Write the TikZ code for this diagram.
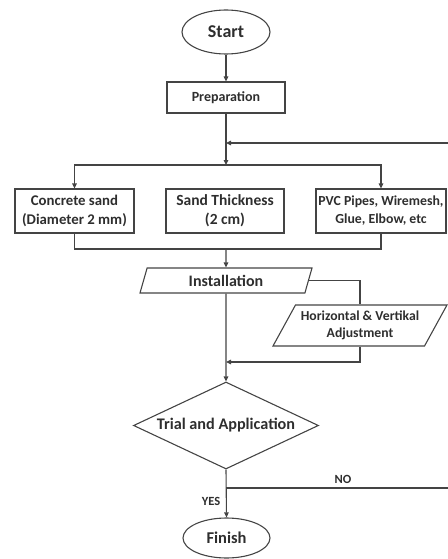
\documentclass[tikz,border=0pt]{standalone}
\usepackage{fontspec}
\setmainfont{Carlito}
\usetikzlibrary{shapes.geometric,arrows.meta}
\definecolor{ln}{HTML}{444444}
\definecolor{tx}{HTML}{2E2E2E}
\begin{document}
\begin{tikzpicture}[x=1pt,y=-1pt,
  base/.style={draw=ln,line width=1.1pt,text=tx,font=\bfseries,inner sep=1pt,align=center},
  term/.style={base,ellipse},
  procbox/.style={base,rectangle},
  iobox/.style={base,trapezium,trapezium stretches body},
  decide/.style={base,diamond},
  conn/.style={draw=ln,line width=1.1pt},
  arr/.style={conn,-{Triangle[length=5pt,width=4.5pt]}},
  lab/.style={text=tx,font=\bfseries\fontsize{12.5}{14}\selectfont,inner sep=0pt}]
\useasboundingbox (0,0) rectangle (447,559);
\node[term,minimum width=88,minimum height=44,font=\bfseries\fontsize{18}{20}\selectfont] (start) at (226,32) {Start};
\node[procbox,minimum width=118,minimum height=31,font=\bfseries\fontsize{14}{16}\selectfont] (prep) at (226,97.5) {Preparation};
\coordinate (fb) at (226,143);
\coordinate (j1) at (226,165);
\node[procbox,minimum width=119,minimum height=44,font=\bfseries\fontsize{14.8}{19}\selectfont] (sand) at (74.5,211) {Concrete sand\\(Diameter 2 mm)};
\node[procbox,minimum width=118,minimum height=44,font=\bfseries\fontsize{15.5}{19}\selectfont] (thick) at (225,211) {Sand Thickness\\(2 cm)};
\node[procbox,minimum width=130,minimum height=44,font=\bfseries\fontsize{13.8}{18}\selectfont] (pvc) at (381,211) {PVC Pipes, Wiremesh,\\Glue, Elbow, etc};
\coordinate (j2) at (226,249);
\node[iobox,trapezium left angle=62,trapezium right angle=118,minimum width=172,minimum height=25,font=\bfseries\fontsize{16}{18}\selectfont] (inst) at (226,280.5) {Installation};
\node[iobox,trapezium left angle=54,trapezium right angle=126,minimum width=174,minimum height=41,font=\bfseries\fontsize{13.7}{17}\selectfont] (adj) at (360,325.5) {Horizontal \& Vertikal\\Adjustment};
\coordinate (m2) at (226,362);
\node[decide,shape aspect=2.13,minimum width=185,minimum height=87,font=\bfseries\fontsize{16.2}{18}\selectfont] (trial) at (226,425.5) {Trial and Application};
\coordinate (no) at (226,488);
\coordinate (noR) at (470,488);
\coordinate (fbR) at (470,143);
\node[term,minimum width=87,minimum height=40,font=\bfseries\fontsize{16.5}{18}\selectfont] (fin) at (226.5,538) {Finish};
\node[lab] (nolab) at (343,479) {NO};
\node[lab] (yeslab) at (211,501) {YES};
% connectors
\draw[arr] (start) -- (prep);
\draw[arr] (prep) -- (j1);
\draw[arr] (j1) -| (sand.north);
\draw[arr] (j1) -| (pvc.north);
\draw[conn] (sand.south) |- (j2);
\draw[conn] (pvc.south) |- (j2);
\draw[arr] (j2) -- (inst.north);
\draw[conn] (inst.east) -| (adj.north);
\draw[arr] (adj.south) |- (m2);
\draw[arr] (inst.south) -- (trial.north);
\draw[arr] (trial.south) -- (fin.north);
\draw[conn] (no) -- (noR) -- (fbR);
\draw[arr] (fbR) -- (fb);
\end{tikzpicture}
\end{document}
